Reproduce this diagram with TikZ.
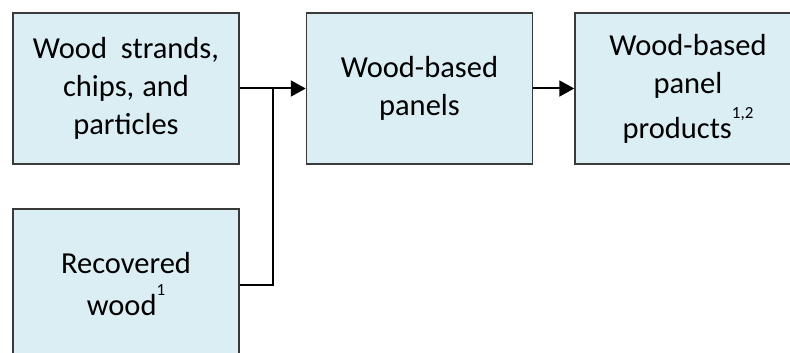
\documentclass[tikz,border=0pt]{standalone}
\usepackage{fontspec}
\setmainfont{Carlito}
\usetikzlibrary{arrows.meta}
\definecolor{boxfill}{HTML}{DBEEF4}
\definecolor{boxline}{HTML}{3A3A3A}
\newcommand{\sups}[1]{\raisebox{20pt}{\fontsize{17}{17}\selectfont #1}}
\begin{document}
\begin{tikzpicture}[x=1pt,y=-1pt,
  stepbox/.style={draw=boxline,line width=1.5pt,fill=boxfill,minimum width=226pt,minimum height=151pt,
    text width=210pt,align=center,inner sep=0pt,font=\fontsize{30.5}{38}\selectfont},
  conn/.style={line width=2pt,draw=black},
  arr/.style={conn,-{Triangle[length=15pt,width=16pt]}}]
\useasboundingbox (0,0) rectangle (790,353);
\clip (0,0) rectangle (790,353);
\node[stepbox] (wood) at (126,88.5) {Wood\hspace{14pt}strands,\\chips,\hspace{8pt}and\\particles};
\node[stepbox] (rec) at (126,284.5) {Recovered\\[4pt]wood\sups{1}};
\node[stepbox] (panels) at (419.5,88.5) {Wood-based\\panels};
\node[stepbox] (prod) at (688,88.5) {Wood-based\\panel\\[7pt]products\sups{1,2}};
\coordinate (j) at (273,88.5);
\draw[arr] (wood.east) -- (panels.west);
\draw[conn] (rec.east) -| (j);
\draw[arr] (panels.east) -- (prod.west);
\end{tikzpicture}
\end{document}
